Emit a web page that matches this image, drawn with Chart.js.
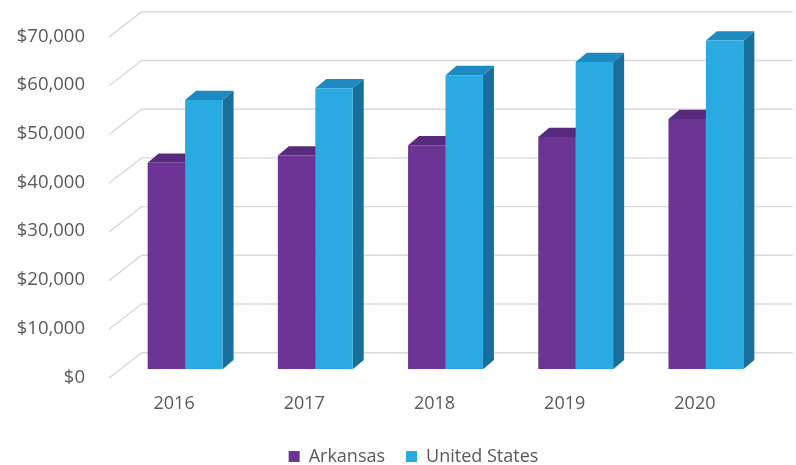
<!DOCTYPE html>
<html><head><meta charset="utf-8">
<script src="https://cdn.jsdelivr.net/npm/chart.js@4.4.0/dist/chart.umd.min.js"></script>
<style>html,body{margin:0;padding:0;background:#fff;}#wrap{width:796px;height:465px;position:relative}</style>
</head><body><div id="wrap"><canvas id="c" width="796" height="465"></canvas></div>
<script>
const categories = ['2016', '2017', '2018', '2019', '2020'];
const seriesNames = ['Arkansas', 'United States'];
const arkansas = [42400, 43900, 46000, 47700, 51400];
const unitedStates = [55300, 57700, 60400, 63100, 67500];
const yMin = 0, yMax = 70000, yStep = 10000;

const frontColors = ['#6C3595', '#29ABE2'];
const topColors = ['#582A7E', '#1C89C1'];
const sideColors = ['#4B236C', '#176F9B'];

const DEPTH = {dx: 11, dy: -9.3};
const WALL = {dx: 21.7, dy: -16.6};
const FLOOR = {dx: -11, dy: 8.7};
const CHART_TOP = 28.4, CHART_BOTTOM = 369.3;

const threeD = {
  id: 'threeD',
  afterLayout(chart) {
    const lg = chart.legend;
    if (lg) {
      const dy = 451 - (lg.top + lg.height / 2);
      lg.top += dy; lg.bottom += dy; lg.left += 28; lg.right += 28;
    }
  },
  beforeDatasetsDraw(chart) {
    const ctx = chart.ctx, ys = chart.scales.y, a = chart.chartArea;
    ctx.save();
    ctx.strokeStyle = '#D9D9D9';
    ctx.lineWidth = 1.4;
    ys.ticks.forEach(t => {
      const py = ys.getPixelForValue(t.value);
      ctx.beginPath();
      ctx.moveTo(a.left + FLOOR.dx, py + FLOOR.dy);
      ctx.lineTo(a.left + WALL.dx, py + WALL.dy);
      ctx.lineTo(a.right + WALL.dx, py + WALL.dy);
      ctx.stroke();
    });
    chart.data.datasets.forEach((ds, di) => {
      const meta = chart.getDatasetMeta(di);
      meta.data.forEach(el => {
        const xl = el.x - el.width / 2, xr = el.x + el.width / 2, yt = el.y, yb = el.base;
        ctx.fillStyle = sideColors[di];
        ctx.beginPath();
        ctx.moveTo(xr, yt); ctx.lineTo(xr + DEPTH.dx, yt + DEPTH.dy);
        ctx.lineTo(xr + DEPTH.dx, yb + DEPTH.dy); ctx.lineTo(xr, yb);
        ctx.closePath(); ctx.fill();
        ctx.fillStyle = topColors[di];
        ctx.beginPath();
        ctx.moveTo(xl, yt); ctx.lineTo(xr, yt);
        ctx.lineTo(xr + DEPTH.dx, yt + DEPTH.dy); ctx.lineTo(xl + DEPTH.dx, yt + DEPTH.dy);
        ctx.closePath(); ctx.fill();
      });
    });
    ctx.restore();
  }
};

const tickColor = '#595959';
const chart = new Chart(document.getElementById('c'), {
  type: 'bar',
  data: {
    labels: categories,
    datasets: [
      {label: seriesNames[0], data: arkansas, backgroundColor: frontColors[0], borderWidth: 0},
      {label: seriesNames[1], data: unitedStates, backgroundColor: frontColors[1], borderWidth: 0}
    ]
  },
  options: {
    responsive: false,
    animation: false,
    devicePixelRatio: 1,
    layout: {padding: {top: CHART_TOP, right: 25, left: 0, bottom: 0}},
    datasets: {bar: {categoryPercentage: 0.575, barPercentage: 1.0}},
    scales: {
      x: {
        grid: {display: false, drawTicks: false},
        border: {display: false},
        ticks: {color: tickColor, font: {family: 'Open Sans', size: 18}, padding: 24, labelOffset: -11},
        afterFit: s => {
          const lgH = (s.chart.legend && s.chart.legend.height) || 50;
          s.height = s.chart.height - lgH - CHART_BOTTOM;
          s.paddingLeft = 0; s.paddingRight = 0;
        }
      },
      y: {
        min: yMin, max: yMax,
        grid: {display: false, drawTicks: false},
        border: {display: false},
        ticks: {
          stepSize: yStep, color: tickColor, padding: 35, labelOffset: 8,
          font: {family: 'Open Sans', size: 18.5},
          callback: v => '$' + Number(v).toLocaleString('en-US')
        },
        afterFit: s => { s.width = 120; s.paddingTop = 0; s.paddingBottom = 0; }
      }
    },
    plugins: {
      legend: {
        position: 'bottom',
        labels: {boxWidth: 11, boxHeight: 11, padding: 21, color: tickColor, font: {family: 'Open Sans', size: 18}}
      },
      tooltip: {enabled: false}
    }
  },
  plugins: [threeD]
});
</script></body></html>
